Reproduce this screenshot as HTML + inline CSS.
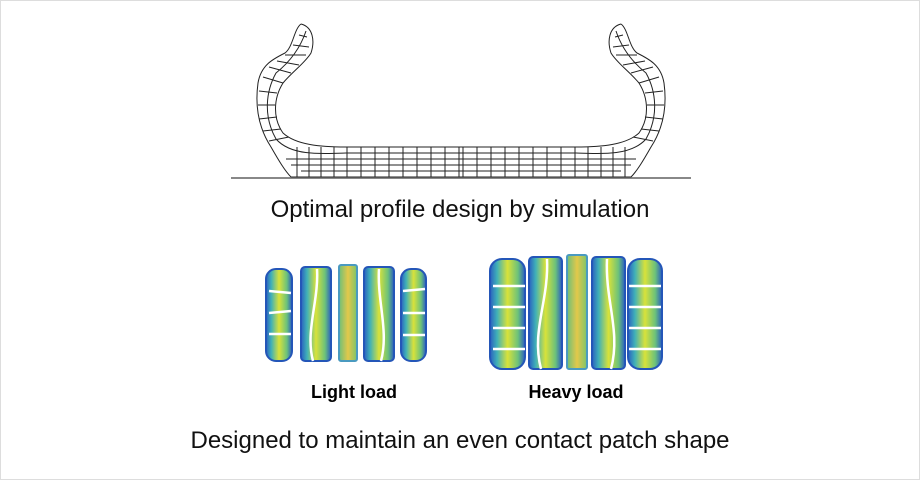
<!DOCTYPE html>
<html><head><meta charset="utf-8"><style>
html,body{margin:0;padding:0;background:#fff;}
.wrap{position:relative;width:918px;height:478px;border:1px solid #ddd;overflow:hidden;font-family:"Liberation Sans",Arial,sans-serif;}
.t{position:absolute;left:0;width:918px;text-align:center;color:#111;}
</style></head><body><div class="wrap">
<svg width="920" height="480" style="position:absolute;left:0;top:0">
<defs>
<linearGradient id="rib" x1="0" x2="1" y1="0" y2="0">
<stop offset="0" stop-color="#2a5fc0"/><stop offset="0.2" stop-color="#3fb0b8"/><stop offset="0.5" stop-color="#d8e23a"/><stop offset="0.8" stop-color="#6cc27a"/><stop offset="1" stop-color="#2a5fc0"/></linearGradient>
<linearGradient id="ribc" x1="0" x2="1"><stop offset="0" stop-color="#6cbf7a"/><stop offset="0.5" stop-color="#e2c84a"/><stop offset="1" stop-color="#7cc46a"/></linearGradient>
</defs>
<line x1="230" y1="177" x2="690" y2="177" stroke="#888" stroke-width="2"/>
<g fill="none" stroke="#222" stroke-width="1">
<path d="M300,23 C293,28 292,46 284,52 C272,58 260,64 257,82 C254,104 257,126 270,146 C278,160 284,170 290,176 L630,176 C636,170 642,160 650,146 C663,126 666,104 663,82 C660,64 648,58 636,52 C628,46 627,28 620,23"/>
<path d="M300,23 C312,26 314,40 310,52 C304,62 292,70 282,82 C272,98 272,118 282,132 C295,144 320,146 345,146 L575,146 C600,146 625,144 638,132 C648,118 648,98 638,82 C628,70 616,62 610,52 C606,40 608,26 620,23"/>
<path d="M305,30 C300,45 290,60 275,72 C265,90 262,115 275,138 C290,155 320,153 345,152 L575,152 C600,153 630,155 645,138 C658,115 655,90 645,72 C630,60 620,45 615,30"/>
<path d="M290,164 L630,164 M285,158 L635,158 M300,170 L620,170"/>
<path d="M298,34 L306,36 M292,44 L308,46 M284,54 L305,54 M276,60 L298,64 M268,66 L290,72 M262,76 L282,82 M258,90 L276,92 M257,104 L274,104 M258,118 L276,116 M262,130 L280,128 M268,140 L288,136"/>
<path d="M622,34 L614,36 M628,44 L612,46 M636,54 L615,54 M644,60 L622,64 M652,66 L630,72 M658,76 L638,82 M662,90 L644,92 M663,104 L646,104 M662,118 L644,116 M658,130 L640,128 M652,140 L632,136"/>
<path d="M296,146 L296,176 M308,146 L308,176 M320,146 L320,176 M333,146 L333,176 M346,146 L346,176 M360,146 L360,176 M374,146 L374,176 M388,146 L388,176 M402,146 L402,176 M416,146 L416,176 M430,146 L430,176 M444,146 L444,176 M458,146 L458,176 M462,146 L462,176 M476,146 L476,176 M490,146 L490,176 M504,146 L504,176 M518,146 L518,176 M532,146 L532,176 M546,146 L546,176 M560,146 L560,176 M574,146 L574,176 M587,146 L587,176 M600,146 L600,176 M612,146 L612,176 M624,146 L624,176"/>
</g>
<g stroke="#2456b8" stroke-width="2">
<rect x="265" y="268" width="26" height="92" rx="10" fill="url(#rib)"/>
<rect x="300" y="266" width="30" height="94" rx="4" fill="url(#rib)"/>
<rect x="338" y="264" width="18" height="96" rx="2" fill="url(#ribc)" stroke="#4a9ac0"/>
<rect x="363" y="266" width="30" height="94" rx="4" fill="url(#rib)"/>
<rect x="400" y="268" width="25" height="92" rx="10" fill="url(#rib)"/>
<rect x="489" y="258" width="35" height="110" rx="12" fill="url(#rib)"/>
<rect x="528" y="256" width="33" height="112" rx="4" fill="url(#rib)"/>
<rect x="566" y="254" width="20" height="114" rx="2" fill="url(#ribc)" stroke="#4a9ac0"/>
<rect x="591" y="256" width="33" height="112" rx="4" fill="url(#rib)"/>
<rect x="627" y="258" width="34" height="110" rx="12" fill="url(#rib)"/>
</g>
<g stroke="#fff" stroke-width="2.5" fill="none">
<path d="M268,290 L290,292 M268,312 L290,310 M268,333 L290,333 M402,290 L424,288 M402,312 L424,312 M402,334 L424,334"/>
<path d="M316,268 C318,300 304,330 312,360 M378,268 C376,300 388,330 380,360"/>
<path d="M492,285 L524,285 M492,306 L524,306 M492,327 L524,327 M492,348 L524,348 M628,285 L660,285 M628,306 L660,306 M628,327 L660,327 M628,348 L660,348"/>
<path d="M546,258 C548,300 530,330 540,368 M606,258 C604,300 620,330 610,368"/>
</g>
</svg>
<div class="t" style="top:195px;font-size:24px;">Optimal profile design by simulation</div>
<div style="position:absolute;left:278px;width:150px;top:381px;font-size:18px;font-weight:bold;text-align:center;">Light load</div>
<div style="position:absolute;left:500px;width:150px;top:381px;font-size:18px;font-weight:bold;text-align:center;">Heavy load</div>
<div class="t" style="top:426px;font-size:24px;">Designed to maintain an even contact patch shape</div>
</div></body></html>
